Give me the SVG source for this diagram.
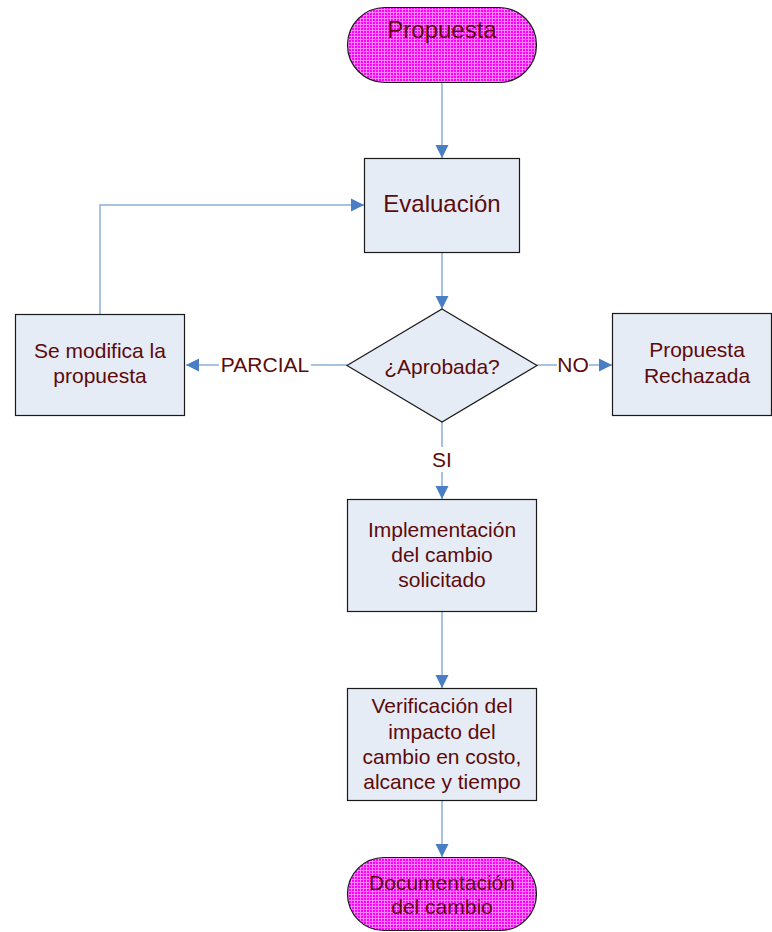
<svg xmlns="http://www.w3.org/2000/svg" width="772" height="932" viewBox="0 0 772 932">
  <defs>
    <pattern id="grid" width="3" height="3" patternUnits="userSpaceOnUse">
      <rect width="3" height="3" fill="#FF00FF"/>
      <path d="M0 0.5H3M0.5 0V3" stroke="#FF80FF" stroke-width="1" fill="none"/>
    </pattern>
    <marker id="arrow" markerWidth="14" markerHeight="14" refX="13" refY="7" orient="auto" markerUnits="userSpaceOnUse">
      <path d="M0 0.5L13 7L0 13.5Z" fill="#4A7EC4"/>
    </marker>
  </defs>
  <style>
    .term { fill: url(#grid); stroke: #1a1a1a; stroke-width: 1.2; }
    .box { fill: #E6ECF6; stroke: #1a1a1a; stroke-width: 1.2; }
    .lbl { font-family: "Liberation Sans", Arial, sans-serif; font-size: 21px; fill: #5C0A0A; text-anchor: middle; }
    .big { font-size: 24px; }
    .edge { fill: none; stroke: #8AAEDC; stroke-width: 1.5; }
    .elbl { font-family: "Liberation Sans", Arial, sans-serif; font-size: 21px; fill: #5C0A0A; text-anchor: middle; }
  </style>
  <rect width="772" height="932" fill="#FFFFFF"/>

  <g id="connectors">
    <path class="edge" d="M442 83V158" marker-end="url(#arrow)"/>
    <path class="edge" d="M442 252V309" marker-end="url(#arrow)"/>
    <path class="edge" d="M347 365H311M219 365H186" marker-end="url(#arrow)"/>
    <path class="edge" d="M537 365H557M589 365H612" marker-end="url(#arrow)"/>
    <path class="edge" d="M442 422V447M442 472V499" marker-end="url(#arrow)"/>
    <path class="edge" d="M100 314V205H364" marker-end="url(#arrow)"/>
    <path class="edge" d="M442 612V688" marker-end="url(#arrow)"/>
    <path class="edge" d="M442 801V857" marker-end="url(#arrow)"/>
    <text class="elbl" x="265" y="372">PARCIAL</text>
    <text class="elbl" x="573" y="372">NO</text>
    <text class="elbl" x="442" y="467">SI</text>
  </g>

  <g id="propuesta">
    <rect class="term" x="347.5" y="7.5" width="189" height="75" rx="37.5" ry="37.5"/>
    <text class="lbl big" x="442" y="38">Propuesta</text>
  </g>

  <g id="evaluacion">
    <rect class="box" x="364.5" y="158.5" width="155" height="94"/>
    <text class="lbl big" x="442" y="212">Evaluación</text>
  </g>

  <g id="aprobada">
    <polygon class="box" points="442,309 537,365.5 442,422 347,365.5"/>
    <text class="lbl" x="442" y="374">¿Aprobada?</text>
  </g>

  <g id="modifica">
    <rect class="box" x="15.5" y="314.5" width="169" height="101"/>
    <text class="lbl" x="100" y="358">Se modifica la</text>
    <text class="lbl" x="100" y="383">propuesta</text>
  </g>

  <g id="rechazada">
    <rect class="box" x="612.5" y="313.5" width="159" height="102"/>
    <text class="lbl" x="697" y="357">Propuesta</text>
    <text class="lbl" x="697" y="383">Rechazada</text>
  </g>

  <g id="implementacion">
    <rect class="box" x="347.5" y="499.5" width="189" height="112"/>
    <text class="lbl" x="442" y="537">Implementación</text>
    <text class="lbl" x="442" y="562">del cambio</text>
    <text class="lbl" x="442" y="587">solicitado</text>
  </g>

  <g id="verificacion">
    <rect class="box" x="347.5" y="688.5" width="189" height="112"/>
    <text class="lbl" x="442" y="713">Verificación del</text>
    <text class="lbl" x="442" y="739">impacto del</text>
    <text class="lbl" x="442" y="764">cambio en costo,</text>
    <text class="lbl" x="442" y="789">alcance y tiempo</text>
  </g>

  <g id="documentacion">
    <rect class="term" x="347.5" y="857.5" width="189" height="73" rx="36.5" ry="36.5"/>
    <text class="lbl" x="442" y="890">Documentación</text>
    <text class="lbl" x="442" y="914">del cambio</text>
  </g>
</svg>
